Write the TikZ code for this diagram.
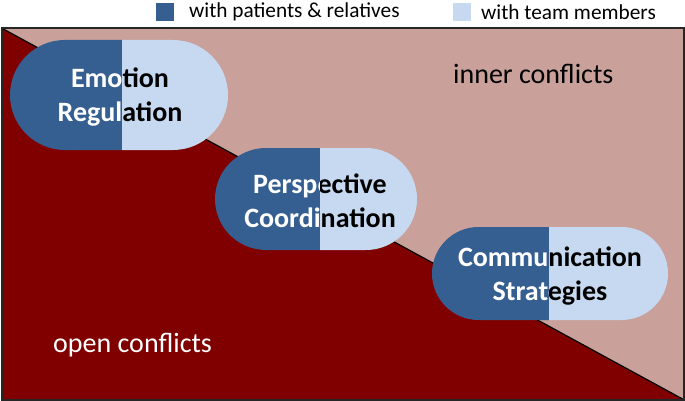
\documentclass[tikz,border=0pt]{standalone}
\usepackage{fontspec}
\setmainfont{Carlito}
\definecolor{darkred}{RGB}{128,0,0}
\definecolor{rosy}{RGB}{201,161,154}
\definecolor{pilldark}{RGB}{54,95,145}
\definecolor{pilllight}{RGB}{198,217,240}
\tikzset{
	pilltext/.style={align=center,inner sep=0pt,font=\fontsize{28}{34}\selectfont\bfseries},
	legendtext/.style={anchor=west,inner sep=0pt,font=\fontsize{21.3}{25}\selectfont},
	areatext/.style={anchor=base west,inner sep=0pt,font=\fontsize{28}{32}\selectfont}
}
\begin{document}
\begin{tikzpicture}[x=1pt,y=-1pt]
				\useasboundingbox (0,0) rectangle (685,401);
				% legend
				\fill[pilldark] (156,3) rectangle (174,21);
				\node[legendtext] (legdark) at (189,12) {with patients \& relatives};
				\fill[pilllight] (453,3) rectangle (471,21);
				\node[legendtext] (leglight) at (481,12) {with team members};
				% the two areas
				\fill[darkred] (1.5,28) rectangle (683.5,399.5);
				\fill[rosy] (1.5,28) -- (683.5,28) -- (683.5,399.5) -- cycle;
				\draw[line width=1.2pt] (1.5,28) -- (683.5,399.5);
				\draw[line width=2pt,black!85] (1.5,28) rectangle (683.5,399.5);
				\node[areatext] (inner) at (453,84) {inner conflicts};
				\node[areatext,white] (open) at (53,352) {open conflicts};
				% Emotion Regulation
				\begin{scope}
					\clip (10,40) rectangle (122,150);
					\fill[pilldark,rounded corners=55pt] (10,40) rectangle (228,150);
					\node[pilltext,white] (emotionL) at (120,97) {Emotion\\Regulation};
				\end{scope}
				\begin{scope}
					\clip (122,40) rectangle (228,150);
					\fill[pilllight,rounded corners=55pt] (10,40) rectangle (228,150);
					\node[pilltext,black] (emotionR) at (120,97) {Emotion\\Regulation};
				\end{scope}
				% Perspective Coordination
				\begin{scope}
					\clip (215,148) rectangle (320,250);
					\fill[pilldark,rounded corners=51pt] (215,148) rectangle (417,250);
					\node[pilltext,white] (perspL) at (320,201) {Perspective\\Coordination};
				\end{scope}
				\begin{scope}
					\clip (320,148) rectangle (417,250);
					\fill[pilllight,rounded corners=51pt] (215,148) rectangle (417,250);
					\node[pilltext,black] (perspR) at (320,201) {Perspective\\Coordination};
				\end{scope}
				% Communication Strategies
				\begin{scope}
					\clip (432,227) rectangle (549,320);
					\fill[pilldark,rounded corners=46.5pt] (432,227) rectangle (668,320);
					\node[pilltext,white] (commL) at (550,276) {Communication\\Strategies};
				\end{scope}
				\begin{scope}
					\clip (549,227) rectangle (668,320);
					\fill[pilllight,rounded corners=46.5pt] (432,227) rectangle (668,320);
					\node[pilltext,black] (commR) at (550,276) {Communication\\Strategies};
				\end{scope}
			\end{tikzpicture}
\end{document}
